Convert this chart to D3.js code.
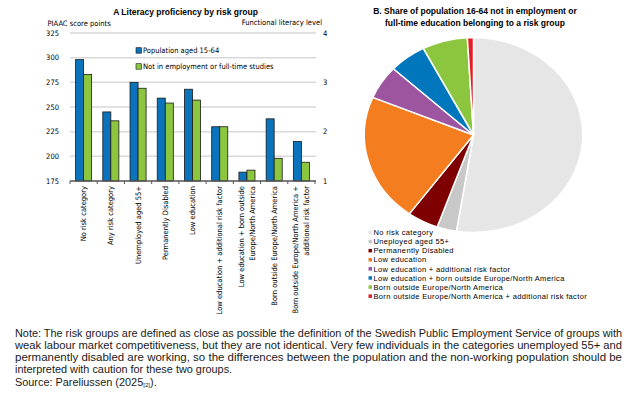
<!DOCTYPE html>
<html>
<head>
<meta charset="utf-8">
<script src="https://cdn.jsdelivr.net/npm/d3@7"></script>
<style>
  body { margin: 0; background: #fff; }
  svg { display: block; }
  .small { font-family: "Liberation Sans Narrow", "DejaVu Sans Condensed", "Liberation Sans", sans-serif; font-size: 7.5px; fill: #000; }
  .ttl { font-family: "Liberation Sans", Arial, sans-serif; font-weight: bold; font-size: 8.5px; fill: #000; }
  .note { font-family: "Liberation Sans", Arial, sans-serif; font-size: 10.6px; fill: #1a1a1a; }
</style>
</head>
<body>
<div id="chart"></div>
<script>
// panel A data
var categories = [
    ['No risk category'],
    ['Any risk category'],
    ['Unemployed aged 55+'],
    ['Permanently Disabled'],
    ['Low education'],
    ['Low education + additional risk factor'],
    ['Low education + born outside', 'Europe/North America'],
    ['Born outside Europe/North America'],
    ['Born outside Europe/North America +', 'additional risk factor']
];
var population = [298, 245, 275, 259, 268, 230, 184, 238, 215];
var notEmployed = [283, 236, 269, 254, 257, 230, 186, 198, 194];
var seriesNames = ['Population aged 15-64', 'Not in employment or full-time studies'];
var leftTicks = [175, 200, 225, 250, 275, 300, 325];
var rightTicks = [1, 2, 3, 4];

// panel B data
var pieLabels = [
    'No risk category',
    'Uneployed aged 55+',
    'Permanently Disabled',
    'Low education',
    'Low education + additional risk factor',
    'Low education + born outside Europe/North America',
    'Born outside Europe/North America',
    'Born outside Europe/North America + additional risk factor'
];
var pieShares = [52.5, 2.9, 4.6, 21.3, 5.6, 5.5, 6.7, 0.9];
var pieColors = ['#e6e6e6', '#c8c8c8', '#7f0000', '#f47d20', '#9e55a0', '#0077bd', '#8cc63f', '#e31e24'];

var noteLines = [
    'Note: The risk groups are defined as close as possible the definition of the Swedish Public Employment Service of groups with',
    'weak labour market competitiveness, but they are not identical. Very few individuals in the categories unemployed 55+ and',
    'permanently disabled are working, so the differences between the population and the non-working population should be',
    'interpreted with caution for these two groups.'
];

var width = 635, height = 399;
var svg = d3.select('#chart').append('svg')
    .attr('width', width)
    .attr('height', height);

// ---- panel A ----
var plotLeft = 70, plotRight = 315, plotTop = 33, plotBottom = 181;

var x = d3.scaleBand().domain(d3.range(categories.length))
    .range([plotLeft, plotRight]).paddingInner(0.41).paddingOuter(0.205);
var x1 = d3.scaleBand().domain([0, 1]).range([0, x.bandwidth()]);
var y = d3.scaleLinear().domain([175, 325]).range([plotBottom, plotTop]);
var yR = d3.scaleLinear().domain([1, 4]).range([plotBottom, plotTop]);

svg.append('g')
    .selectAll('line')
    .data(leftTicks.slice(1))
    .enter().append('line')
    .attr('x1', plotLeft).attr('x2', plotRight + 1)
    .attr('y1', d => y(d)).attr('y2', d => y(d))
    .attr('stroke', '#d9d9d9').attr('stroke-width', 1.5);

var colors = ['#0a73bb', '#8cc63f'];
[population, notEmployed].forEach(function(vals, s) {
    svg.append('g')
        .selectAll('rect')
        .data(vals)
        .enter().append('rect')
        .attr('x', (d, i) => x(i) + x1(s))
        .attr('y', d => y(d))
        .attr('width', x1.bandwidth())
        .attr('height', d => y(175) - y(d))
        .attr('fill', colors[s])
        .attr('stroke', '#1a1a1a')
        .attr('stroke-width', 0.8);
});

// baseline with ticks between groups
var axisB = svg.append('g').attr('transform', `translate(0,${plotBottom})`);
axisB.append('line').attr('x1', plotLeft).attr('x2', plotRight + 1)
    .attr('stroke', '#555').attr('stroke-width', 1.5);
axisB.selectAll('.tk')
    .data(d3.range(categories.length + 1))
    .enter().append('line')
    .attr('x1', i => plotLeft + i * x.step()).attr('x2', i => plotLeft + i * x.step())
    .attr('y1', 0).attr('y2', 3)
    .attr('stroke', '#555').attr('stroke-width', 1);

svg.append('g')
    .selectAll('text')
    .data(leftTicks)
    .enter().append('text')
    .attr('class', 'small')
    .attr('x', 59).attr('y', d => y(d))
    .attr('dy', '0.35em')
    .attr('text-anchor', 'end')
    .text(d => d);

svg.append('g')
    .selectAll('text')
    .data(rightTicks)
    .enter().append('text')
    .attr('class', 'small')
    .attr('x', 323).attr('y', d => yR(d))
    .attr('dy', '0.35em')
    .text(d => d);

// rotated category labels
categories.forEach(function(lines, i) {
    var cx = x(i) + x.bandwidth() / 2;
    var off = lines.length === 1 ? [0] : [-5.5, 5.5];
    lines.forEach(function(t, j) {
        var tx = cx + off[j] + 2.6;
        svg.append('text')
            .attr('class', 'small')
            .attr('transform', `translate(${tx},${plotBottom + 5}) rotate(-90)`)
            .attr('text-anchor', 'end')
            .text(t);
    });
});

svg.append('text').attr('class', 'ttl')
    .attr('x', 185.5).attr('y', 15).attr('text-anchor', 'middle')
    .text('A Literacy proficiency by risk group');
svg.append('text').attr('class', 'small')
    .attr('x', 47.5).attr('y', 25.5)
    .text('PIAAC score points');
svg.append('text').attr('class', 'small')
    .attr('x', 322).attr('y', 25)
    .attr('text-anchor', 'end')
    .text('Functional literacy level');

// legend panel A
seriesNames.forEach(function(n, s) {
    var ly = 50.5 + s * 16;
    svg.append('rect')
        .attr('x', 136).attr('y', ly - 2.8)
        .attr('width', 5.5).attr('height', 5.5)
        .attr('fill', colors[s]).attr('stroke', '#1a1a1a').attr('stroke-width', 0.6);
    svg.append('text').attr('class', 'small')
        .attr('x', 143).attr('y', ly).attr('dy', '0.35em')
        .text(n);
});

// ---- panel B ----
svg.append('text').attr('class', 'ttl')
    .attr('x', 475).attr('y', 14).attr('text-anchor', 'middle')
    .text('B. Share of population 16-64 not in employment or');
svg.append('text').attr('class', 'ttl')
    .attr('x', 475).attr('y', 26).attr('text-anchor', 'middle')
    .text('full-time education belonging to a risk group');

var pie = d3.pie().sort(null).value(d => d);
var arc = d3.arc().innerRadius(0).outerRadius(97.5);
svg.append('g')
    .attr('transform', 'translate(473.5,135) scale(1.12,1)')
    .selectAll('path')
    .data(pie(pieShares))
    .enter().append('path')
    .attr('d', arc)
    .attr('fill', (d, i) => pieColors[i])
    .attr('stroke', '#fff')
    .attr('stroke-width', 1.5)
    .attr('vector-effect', 'non-scaling-stroke');

pieLabels.forEach(function(n, i) {
    var ly = 232.5 + i * 9.1;
    svg.append('rect')
        .attr('x', 368.5).attr('y', ly - 1.8)
        .attr('width', 3.5).attr('height', 3.5)
        .attr('fill', pieColors[i]);
    svg.append('text').attr('class', 'small')
        .style('font-family', '"Liberation Sans", Arial, sans-serif')
        .style('letter-spacing', '0.35px')
        .attr('x', 373.5).attr('y', ly).attr('dy', '0.35em')
        .text(n);
});

// ---- note (narrow font look: squeeze glyphs) ----
var noteX = 15, noteW = 607, lineH = 12.2, noteY = 336.7;
var ratio = 1;
noteLines.forEach(function(t, i) {
    var tx = svg.append('text').attr('class', 'note')
        .attr('x', noteX).attr('y', noteY + i * lineH)
        .text(t);
    var natural = tx.node().getComputedTextLength();
    if (i === 0) ratio = noteW / natural;
    var target = i < 3 ? noteW : natural * ratio;
    tx.attr('textLength', target).attr('lengthAdjust', 'spacingAndGlyphs');
});
var src = svg.append('text').attr('class', 'note')
    .attr('x', 0).attr('y', 0)
    .attr('transform', `translate(${noteX},${noteY + 4 * lineH}) scale(${ratio},1)`);
src.append('tspan').text('Source: Pareliussen (2025');
src.append('tspan').attr('font-size', '6px').attr('dy', 1.5).text('[2]');
src.append('tspan').attr('dy', -1.5).text(').');
</script>
</body>
</html>
